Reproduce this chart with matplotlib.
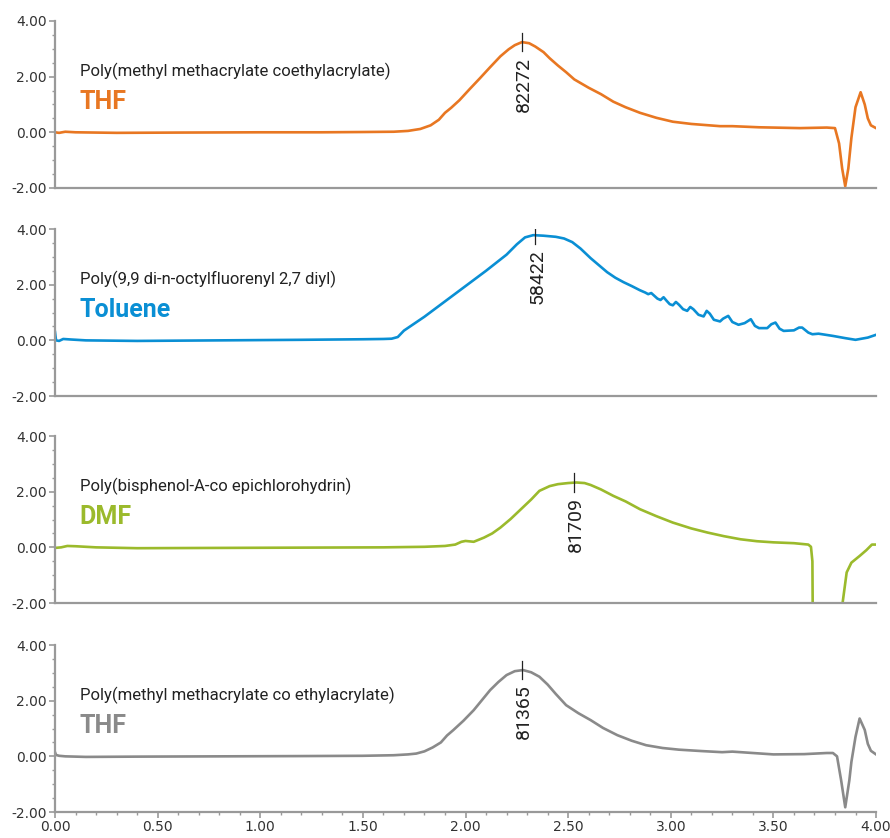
import matplotlib
matplotlib.use('Agg')
import matplotlib.pyplot as plt
from matplotlib.ticker import MultipleLocator, FormatStrFormatter

# ---- data ----
thf1_x = [0.00, 0.02, 0.05, 0.10, 0.30, 0.60, 1.00, 1.30, 1.50, 1.65, 1.72, 1.78, 1.83, 1.87,
          1.90, 1.93, 1.97, 2.02, 2.07, 2.12, 2.17, 2.21, 2.24, 2.275, 2.31, 2.34, 2.38, 2.41,
          2.45, 2.49, 2.53, 2.60, 2.66, 2.72, 2.78, 2.85, 2.93, 3.01, 3.10, 3.24, 3.30, 3.43,
          3.63, 3.76, 3.80, 3.82, 3.835, 3.85, 3.865, 3.88, 3.90, 3.925, 3.945, 3.96, 3.975, 4.00]
thf1_y = [0.00, -0.02, 0.02, 0.00, -0.02, -0.01, 0.00, 0.00, 0.01, 0.02, 0.05, 0.12, 0.25, 0.45,
          0.70, 0.88, 1.15, 1.55, 1.94, 2.34, 2.73, 2.98, 3.13, 3.24, 3.20, 3.08, 2.88, 2.66,
          2.40, 2.16, 1.90, 1.60, 1.37, 1.10, 0.90, 0.70, 0.52, 0.38, 0.30, 0.22, 0.22, 0.18,
          0.15, 0.17, 0.15, -0.40, -1.30, -1.94, -1.30, -0.20, 0.90, 1.44, 1.00, 0.50, 0.25, 0.15]

tol_x = [0.00, 0.005, 0.02, 0.04, 0.08, 0.15, 0.40, 0.80, 1.20, 1.50, 1.60, 1.64, 1.67, 1.70,
         1.80, 1.90, 2.00, 2.10, 2.20, 2.25, 2.29, 2.33, 2.38, 2.44, 2.48, 2.52, 2.56, 2.61,
         2.65, 2.69, 2.73, 2.77, 2.81, 2.85, 2.875, 2.89, 2.905, 2.92, 2.935, 2.95, 2.965, 2.98,
         2.995, 3.01, 3.025, 3.04, 3.06, 3.08, 3.095, 3.11, 3.135, 3.16, 3.175, 3.19, 3.21,
         3.24, 3.255, 3.28, 3.30, 3.33, 3.36, 3.39, 3.41, 3.43, 3.47, 3.49, 3.51, 3.53, 3.55,
         3.60, 3.625, 3.64, 3.67, 3.69, 3.72, 3.79, 3.85, 3.90, 3.96, 4.00]
tol_y = [0.30, 0.00, -0.02, 0.05, 0.03, 0.00, -0.02, 0.00, 0.02, 0.04, 0.05, 0.06, 0.12, 0.35,
         0.85, 1.40, 1.95, 2.50, 3.08, 3.45, 3.70, 3.78, 3.76, 3.72, 3.66, 3.53, 3.30, 2.95,
         2.70, 2.45, 2.25, 2.09, 1.95, 1.80, 1.72, 1.66, 1.70, 1.60, 1.50, 1.45, 1.55, 1.42,
         1.30, 1.26, 1.38, 1.28, 1.12, 1.06, 1.20, 1.12, 0.92, 0.86, 1.06, 0.96, 0.74,
         0.68, 0.78, 0.88, 0.66, 0.56, 0.62, 0.76, 0.52, 0.44, 0.44, 0.58, 0.64, 0.42, 0.34,
         0.36, 0.46, 0.46, 0.28, 0.22, 0.24, 0.16, 0.08, 0.02, 0.10, 0.20]

dmf_x = [0.00, 0.03, 0.06, 0.10, 0.20, 0.40, 0.80, 1.20, 1.60, 1.80, 1.90, 1.95, 1.98, 2.00,
         2.04, 2.09, 2.13, 2.17, 2.22, 2.27, 2.32, 2.36, 2.41, 2.45, 2.50, 2.54, 2.58, 2.61,
         2.66, 2.72, 2.78, 2.85, 2.93, 3.01, 3.10, 3.18, 3.26, 3.34, 3.42, 3.50, 3.60, 3.67,
         3.683, 3.69, 3.695, 3.83, 3.837, 3.857, 3.88, 3.92, 3.953, 3.98, 4.00]
dmf_y = [-0.02, 0.00, 0.05, 0.04, 0.00, -0.03, -0.02, -0.01, 0.00, 0.02, 0.05, 0.10, 0.20, 0.23,
         0.20, 0.35, 0.50, 0.71, 1.02, 1.37, 1.72, 2.03, 2.20, 2.27, 2.31, 2.33, 2.31, 2.24,
         2.08, 1.85, 1.65, 1.37, 1.12, 0.89, 0.68, 0.53, 0.40, 0.29, 0.22, 0.18, 0.15, 0.10,
         0.02, -0.50, -6.00, -6.00, -2.00, -0.90, -0.55, -0.31, -0.10, 0.10, 0.10]

thf2_x = [0.00, 0.005, 0.02, 0.05, 0.15, 0.40, 0.80, 1.20, 1.50, 1.65, 1.72, 1.76, 1.80, 1.84,
          1.88, 1.91, 1.94, 1.99, 2.04, 2.08, 2.12, 2.16, 2.20, 2.24, 2.28, 2.32, 2.36, 2.40,
          2.44, 2.49, 2.55, 2.61, 2.67, 2.74, 2.81, 2.88, 2.96, 3.04, 3.15, 3.25, 3.30, 3.40,
          3.50, 3.65, 3.76, 3.79, 3.81, 3.83, 3.85, 3.87, 3.88, 3.90, 3.92, 3.945, 3.96, 3.975, 4.00]
thf2_y = [0.15, 0.05, 0.02, 0.00, -0.02, -0.01, 0.00, 0.01, 0.02, 0.04, 0.07, 0.10, 0.18, 0.32,
          0.50, 0.75, 0.94, 1.28, 1.66, 2.02, 2.38, 2.67, 2.92, 3.06, 3.10, 3.02, 2.86, 2.58,
          2.24, 1.84, 1.55, 1.30, 1.02, 0.76, 0.56, 0.40, 0.30, 0.24, 0.19, 0.15, 0.17, 0.12,
          0.07, 0.08, 0.12, 0.12, 0.00, -0.86, -1.83, -0.86, -0.20, 0.70, 1.36, 0.95, 0.45, 0.20, 0.07]

polymers = ['Poly(methyl methacrylate coethylacrylate)', 'Poly(9,9 di-n-octylfluorenyl 2,7 diyl)',
            'Poly(bisphenol-A-co epichlorohydrin)', 'Poly(methyl methacrylate co ethylacrylate)']
solvents = ['THF', 'Toluene', 'DMF', 'THF']
colors = ['#e87722', '#0a8fd4', '#9bba2c', '#8a8a8a']
peak_x = [2.275, 2.34, 2.53, 2.275]
peak_y = [3.24, 3.78, 2.33, 3.10]
peak_mw = ['82272', '58422', '81709', '81365']

series = [(thf1_x, thf1_y), (tol_x, tol_y), (dmf_x, dmf_y), (thf2_x, thf2_y)]

narrow = ['Roboto', 'DejaVu Sans']
axis_grey = '#999999'

fig = plt.figure(figsize=(8.9, 8.38), dpi=100)
bottoms = [0.7757, 0.5274, 0.2804, 0.0310]

for i in range(4):
    ax = fig.add_axes([0.0618, bottoms[i], 0.9225, 0.1993])
    x, y = series[i]
    ax.plot(x, y, color=colors[i], lw=1.9, solid_joinstyle='round')
    ax.set_xlim(0, 4)
    ax.set_ylim(-2, 4)

    for s in ['top', 'right']:
        ax.spines[s].set_visible(False)
    for s in ['left', 'bottom']:
        ax.spines[s].set_color(axis_grey)
        ax.spines[s].set_linewidth(1.6)

    ax.yaxis.set_major_locator(MultipleLocator(2))
    ax.yaxis.set_minor_locator(MultipleLocator(0.5))
    ax.yaxis.set_major_formatter(FormatStrFormatter('%.2f'))
    ax.tick_params(axis='y', which='major', length=4, width=1.2, color=axis_grey,
                   labelsize=10, labelcolor='#333333', pad=2)
    ax.tick_params(axis='y', which='minor', length=2, width=1, color=axis_grey)

    if i == 3:
        ax.xaxis.set_major_locator(MultipleLocator(0.5))
        ax.xaxis.set_minor_locator(MultipleLocator(0.1))
        ax.xaxis.set_major_formatter(FormatStrFormatter('%.2f'))
        ax.tick_params(axis='x', which='major', length=4, width=1.2, color=axis_grey,
                       labelsize=10, labelcolor='#333333', pad=2)
        ax.tick_params(axis='x', which='minor', length=2, width=1, color=axis_grey)
    else:
        ax.set_xticks([])

    ax.text(0.12, 2.2, polymers[i], fontsize=12, color='#222222', family=narrow,
            ha='left', va='center')
    ax.text(0.12, 1.1, solvents[i], fontsize=18, color=colors[i], family=narrow,
            fontweight='bold', ha='left', va='center')

    # peak marker and molecular weight
    ax.plot([peak_x[i], peak_x[i]], [peak_y[i] - 0.33, peak_y[i] + 0.33], color='#222222', lw=0.9)
    ax.text(peak_x[i] + 0.01, peak_y[i] - 0.52, peak_mw[i], rotation=90, fontsize=14,
            color='#222222', family=narrow, ha='center', va='top')

fig.savefig('out.png', dpi=100)
